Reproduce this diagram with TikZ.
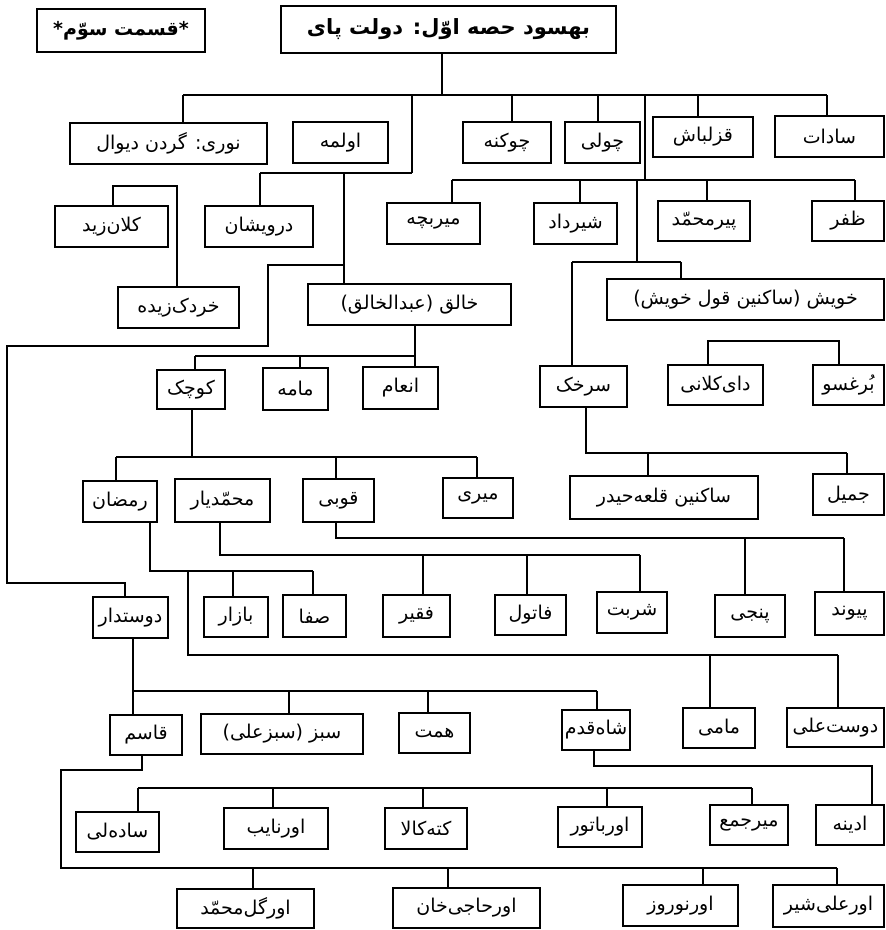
\documentclass[tikz,border=0pt]{standalone}
\usepackage{fontspec}
\newfontfamily\arabicfont[Script=Arabic]{DejaVu Sans}
\TeXXeTstate=1
\newcommand\pb[7][]{\node[box,#1,minimum width={#5-#3},minimum height={#6-#4}] (#2) at ({(#3+#5)/2},{(#4+#6)/2}) {#7};}
\newcommand\dropto[3]{\draw[ln] (#1,#2) -- (#1,0 |- #3.north);}
\begin{document}
\begin{tikzpicture}[x=1pt,y=-1pt,
  box/.style={draw,line width=1.5pt,inner sep=0pt,font=\arabicfont\fontsize{19}{22}\selectfont},
  bold/.style={font=\arabicfont\bfseries\fontsize{19}{22}\selectfont},
  bigbold/.style={font=\arabicfont\bfseries\fontsize{21}{24}\selectfont},
  ln/.style={line width=1.2pt}]
\useasboundingbox (0,0) rectangle (886,930);
% boxes
\pb[bold]{qismat}{37}{9}{205}{52}{\beginR *قسمت سوّم*\endR}
\pb[bigbold]{root}{281}{6}{616}{53}{\beginR بهسود حصه اوّل: دولت پای\endR}
\pb{nuri}{70}{123}{267}{164}{\beginR نوری: گردن دیوال\endR}
\pb{olma}{293}{122}{388}{163}{\beginR اولمه\endR}
\pb{chokna}{463}{122}{551}{163}{\beginR چوکنه\endR}
\pb{chuli}{565}{122}{640}{163}{\beginR چولی\endR}
\pb{qizil}{653}{117}{753}{157}{\beginR قزلباش\endR}
\pb{sadat}{775}{116}{884}{157}{\beginR سادات\endR}
\pb{mirbacha}{387}{203}{480}{244}{\beginR میربچه\endR}
\pb{shirdad}{534}{203}{617}{244}{\beginR شیرداد\endR}
\pb{pirmoh}{658}{201}{750}{241}{\beginR پیرمحمّد\endR}
\pb{zafar}{812}{201}{884}{241}{\beginR ظفر\endR}
\pb{kalan}{55}{206}{168}{247}{\beginR کلان^^^^200cزید\endR}
\pb{darv}{205}{206}{313}{247}{\beginR درویشان\endR}
\pb{khordak}{118}{287}{239}{328}{\beginR خردک^^^^200cزیده\endR}
\pb{khaliq}{308}{284}{511}{325}{\beginR خالق (عبدالخالق)\endR}
\pb{khwesh}{607}{279}{884}{320}{\beginR خویش (ساکنین قول خویش)\endR}
\pb{daik}{668}{365}{763}{405}{\beginR دای^^^^200cکلانی\endR}
\pb{burgh}{813}{365}{884}{405}{\beginR بُرغسو\endR}
\pb{sorkhak}{540}{366}{627}{407}{\beginR سرخک\endR}
\pb{kuchak}{157}{370}{225}{409}{\beginR کوچک\endR}
\pb{mama}{263}{368}{328}{410}{\beginR مامه\endR}
\pb{inam}{363}{367}{438}{409}{\beginR انعام\endR}
\pb{ramazan}{83}{481}{157}{522}{\beginR رمضان\endR}
\pb{myar}{175}{479}{270}{522}{\beginR محمّدیار\endR}
\pb{qubi}{303}{479}{374}{522}{\beginR قوبی\endR}
\pb{miri}{443}{478}{513}{518}{\beginR میری\endR}
\pb{qala}{570}{476}{758}{519}{\beginR ساکنین قلعه^^^^200cحیدر\endR}
\pb{jamil}{813}{474}{884}{515}{\beginR جمیل\endR}
\pb{dostdar}{93}{597}{168}{638}{\beginR دوستدار\endR}
\pb{bazar}{204}{597}{268}{637}{\beginR بازار\endR}
\pb{safa}{283}{595}{346}{637}{\beginR صفا\endR}
\pb{faqir}{383}{595}{450}{637}{\beginR فقیر\endR}
\pb{fatul}{495}{595}{566}{635}{\beginR فاتول\endR}
\pb{sharbat}{597}{592}{667}{633}{\beginR شربت\endR}
\pb{panji}{715}{595}{785}{637}{\beginR پنجی\endR}
\pb{paiwand}{815}{592}{884}{635}{\beginR پیوند\endR}
\pb{qasim}{110}{715}{182}{755}{\beginR قاسم\endR}
\pb{sabz}{201}{714}{363}{754}{\beginR سبز (سبزعلی)\endR}
\pb{hemmat}{399}{713}{470}{753}{\beginR همت\endR}
\pb{shah}{562}{710}{630}{750}{\beginR شاه^^^^200cقدم\endR}
\pb{mami}{683}{708}{755}{748}{\beginR مامی\endR}
\pb{dostali}{787}{708}{884}{747}{\beginR دوست^^^^200cعلی\endR}
\pb{sadali}{76}{812}{159}{852}{\beginR ساده^^^^200cلی\endR}
\pb{ornayeb}{224}{808}{328}{849}{\beginR اورنایب\endR}
\pb{kete}{385}{808}{467}{849}{\beginR کته^^^^200cکالا\endR}
\pb{orbator}{558}{807}{642}{847}{\beginR اورباتور\endR}
\pb{mirjam}{710}{805}{788}{845}{\beginR میرجمع\endR}
\pb{adina}{816}{805}{884}{845}{\beginR ادینه\endR}
\pb{ourgol}{177}{889}{314}{928}{\beginR اورگل^^^^200cمحمّد\endR}
\pb{orhaji}{393}{888}{540}{928}{\beginR اورحاجی^^^^200cخان\endR}
\pb{ornowroz}{623}{885}{738}{926}{\beginR اورنوروز\endR}
\pb{orali}{773}{885}{884}{927}{\beginR اورعلی^^^^200cشیر\endR}
% root
\draw[ln] (442,0 |- root.south) -- (442,95);
\draw[ln] (183,95) -- (827,95);
\dropto{183}{95}{nuri}
\dropto{512}{95}{chokna}
\dropto{598}{95}{chuli}
\dropto{698}{95}{qizil}
\dropto{827}{95}{sadat}
% olma branch
\draw[ln] (412,95) -- (412,173);
\draw[ln] (260,173) -- (412,173);
\dropto{260}{173}{darv}
\dropto{344}{173}{khaliq}
\draw[ln] (344,265) -- (268,265) -- (268,346) -- (7,346) -- (7,583) -- (125,583) -- (125,0 |- dostdar.north);
% second bus
\draw[ln] (645,95) -- (645,180);
\draw[ln] (452,180) -- (855,180);
\dropto{452}{180}{mirbacha}
\dropto{580}{180}{shirdad}
\dropto{707}{180}{pirmoh}
\dropto{855}{180}{zafar}
\draw[ln] (637,180) -- (637,262);
\draw[ln] (572,262) -- (681,262);
\dropto{572}{262}{sorkhak}
\dropto{681}{262}{khwesh}
% brackets
\draw[ln] (113,0 |- kalan.north) -- (113,186) -- (177,186) -- (177,0 |- khordak.north);
\draw[ln] (708,0 |- daik.north) -- (708,341) -- (839,341) -- (839,0 |- burgh.north);
% khaliq
\draw[ln] (415,0 |- khaliq.south) -- (415,356);
\draw[ln] (195,356) -- (415,356);
\dropto{195}{356}{kuchak}
\dropto{300}{356}{mama}
\dropto{415}{356}{inam}
% kuchak
\draw[ln] (192,0 |- kuchak.south) -- (192,457);
\draw[ln] (116,457) -- (477,457);
\dropto{116}{457}{ramazan}
\dropto{336}{457}{qubi}
\dropto{477}{457}{miri}
% sorkhak
\draw[ln] (586,0 |- sorkhak.south) -- (586,453) -- (847,453);
\dropto{648}{453}{qala}
\dropto{847}{453}{jamil}
% qubi
\draw[ln] (336,0 |- qubi.south) -- (336,538) -- (844,538);
\dropto{745}{538}{panji}
\dropto{844}{538}{paiwand}
% mohammadyar
\draw[ln] (220,0 |- myar.south) -- (220,555) -- (640,555);
\dropto{423}{555}{faqir}
\dropto{527}{555}{fatul}
\dropto{640}{555}{sharbat}
% ramazan
\draw[ln] (150,0 |- ramazan.south) -- (150,571) -- (313,571);
\dropto{233}{571}{bazar}
\dropto{313}{571}{safa}
\draw[ln] (188,571) -- (188,655) -- (838,655);
\dropto{710}{655}{mami}
\dropto{838}{655}{dostali}
% dostdar
\draw[ln] (133,0 |- dostdar.south) -- (133,691) -- (597,691);
\dropto{133}{691}{qasim}
\dropto{289}{691}{sabz}
\dropto{428}{691}{hemmat}
\dropto{597}{691}{shah}
% shahqadam
\draw[ln] (594,0 |- shah.south) -- (594,766) -- (872,766) -- (872,0 |- adina.north);
% bracket
\draw[ln] (138,788) -- (752,788);
\dropto{138}{788}{sadali}
\dropto{273}{788}{ornayeb}
\dropto{423}{788}{kete}
\dropto{607}{788}{orbator}
\dropto{752}{788}{mirjam}
% qasim
\draw[ln] (142,0 |- qasim.south) -- (142,770) -- (61,770) -- (61,868) -- (837,868);
\dropto{253}{868}{ourgol}
\dropto{448}{868}{orhaji}
\dropto{703}{868}{ornowroz}
\dropto{837}{868}{orali}
\end{tikzpicture}
\end{document}
